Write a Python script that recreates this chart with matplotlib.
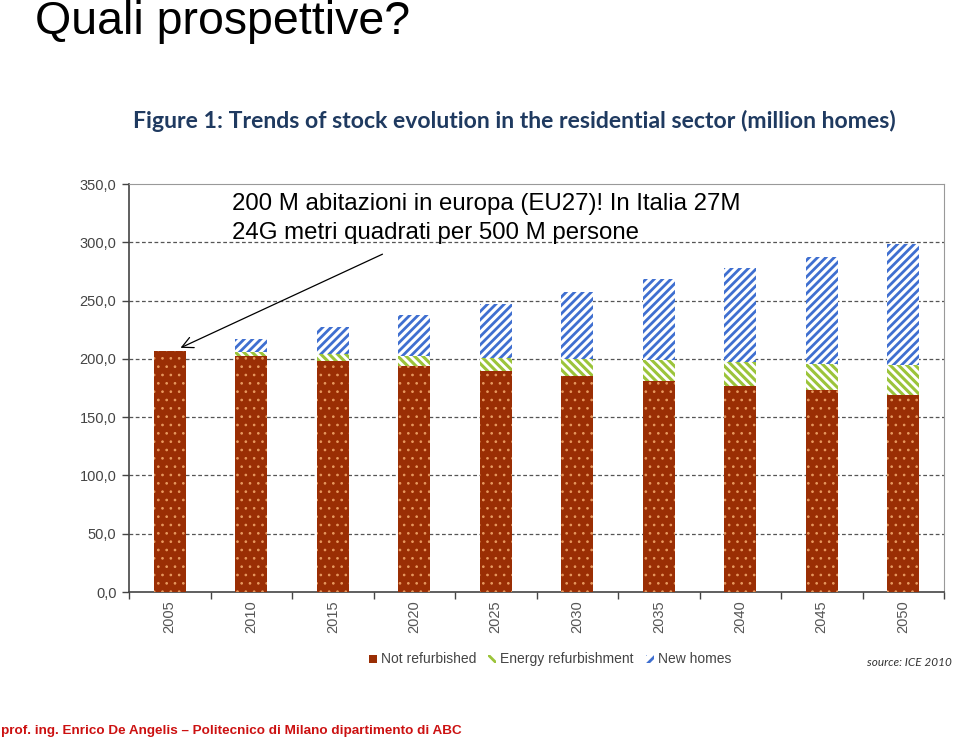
import matplotlib
matplotlib.use("Agg")
import matplotlib.pyplot as plt
import numpy as np
from matplotlib.patches import Rectangle

years = ["2005", "2010", "2015", "2020", "2025", "2030", "2035", "2040", "2045", "2050"]
not_refurbished = [207.0, 202.5, 198.0, 194.0, 189.5, 185.0, 181.0, 177.0, 173.0, 169.0]
energy_refurb = [0.0, 3.0, 6.0, 8.5, 11.0, 15.0, 18.0, 20.5, 23.0, 25.5]
new_homes = [0.0, 11.5, 23.5, 35.0, 46.5, 57.0, 69.5, 80.5, 91.5, 104.0]
yticks = [0, 50, 100, 150, 200, 250, 300, 350]

RED = "#9a2e04"
GREEN = "#9bc43a"
BLUE = "#3f6fd0"

fig = plt.figure(figsize=(9.6, 7.45), dpi=100)
fig.patch.set_facecolor("white")

ax = fig.add_axes([129/960, 153/745, 815/960, 408/745])
x = np.arange(len(years))
w = 0.39
nr = np.array(not_refurbished)
er = np.array(energy_refurb)
nh = np.array(new_homes)

plt.rcParams["hatch.linewidth"] = 0.7
ax.bar(x, nr, w, color=RED, edgecolor="#e89a60", hatch="..", linewidth=0, zorder=3)
plt.rcParams["hatch.linewidth"] = 2.2
ax.bar(x, er, w, bottom=nr, color="white", edgecolor=GREEN, hatch="\\\\\\\\", linewidth=0, zorder=3)
plt.rcParams["hatch.linewidth"] = 2.0
ax.bar(x, nh, w, bottom=nr + er, color="white", edgecolor=BLUE, hatch="////", linewidth=0, zorder=3)

ax.set_xlim(-0.5, len(years) - 0.5)
ax.set_ylim(0, 350)
ax.set_yticks(yticks)
ax.set_yticklabels([f"{v:.1f}".replace(".", ",") for v in yticks], color="#444444", fontsize=10.5,
                   family="Liberation Sans")
for v in yticks[1:-1]:
    ax.axhline(v, color="#555555", linestyle=(0, (3, 2)), linewidth=0.9, zorder=1)

ax.set_xticks(np.arange(-0.5, len(years) + 0.5, 1.0))
ax.set_xticklabels([])
ax.tick_params(axis="x", direction="out", length=5, color="#444444", width=1)
ax.tick_params(axis="y", direction="out", length=5, color="#444444", width=1, pad=4)
for i, yr in enumerate(years):
    ax.text(i, -7, yr, rotation=90, ha="center", va="top", fontsize=10.5, color="#555555",
            family="Liberation Sans", transform=ax.transData)

ax.spines["left"].set_color("#444444")
ax.spines["bottom"].set_color("#444444")
ax.spines["top"].set_color("#999999")
ax.spines["right"].set_color("#999999")
ax.spines["left"].set_linewidth(1.2)
ax.spines["bottom"].set_linewidth(1.2)

# Title texts
fig.text(35/960, 1 - 22/745, "Quali prospettive?", fontsize=33.5, family="Liberation Sans",
         color="black", ha="left", va="center")
fig.text(133/960, 1 - 121/745, "Figure 1: Trends of stock evolution in the residential sector (million homes)",
         fontsize=16.6, fontweight="bold", family="Lato", color="#1f3a60", ha="left", va="center")

fig.text(232/960, 1 - 204/745, "200 M abitazioni in europa (EU27)! In Italia 27M",
         fontsize=17.3, family="Liberation Sans", color="black", ha="left", va="center")
fig.text(232/960, 1 - 233/745, "24G metri quadrati per 500 M persone",
         fontsize=17.3, family="Liberation Sans", color="black", ha="left", va="center")

# arrow
fig.add_artist(matplotlib.patches.FancyArrowPatch(
    (385/960, 1 - 253/745), (178/960, 1 - 349/745), transform=fig.transFigure,
    arrowstyle="->,head_length=8,head_width=4", color="black", linewidth=0.9, mutation_scale=1))

# legend
ly = 1 - 659/745
def sq(xp, fc, ec, hatch):
    r = Rectangle((xp/960, ly - 4/745), 8/960, 8/745, transform=fig.transFigure,
                  facecolor=fc, edgecolor=ec, hatch=hatch, linewidth=0)
    fig.add_artist(r)

sq(369, RED, RED, None)
fig.text(381/960, ly, "Not refurbished", fontsize=10, family="Liberation Sans", color="#444444",
         ha="left", va="center")
sq(488, "white", GREEN, "\\\\\\")
fig.text(500/960, ly, "Energy refurbishment", fontsize=10, family="Liberation Sans", color="#444444",
         ha="left", va="center")
sq(646, "white", BLUE, "///")
fig.text(658/960, ly, "New homes", fontsize=10, family="Liberation Sans", color="#444444",
         ha="left", va="center")

fig.text(952/960, 1 - 663/745, "source: ICE 2010", fontsize=8.5, style="italic", family="Lato",
         color="#333333", ha="right", va="center")

fig.text(1/960, 1 - 731/745,
         "prof. ing. Enrico De Angelis \u2013 Politecnico di Milano dipartimento di ABC",
         fontsize=9.7, fontweight="bold", family="Liberation Sans",
         color="#cc1111", ha="left", va="center")

fig.savefig("out.png", dpi=100, facecolor="white")
